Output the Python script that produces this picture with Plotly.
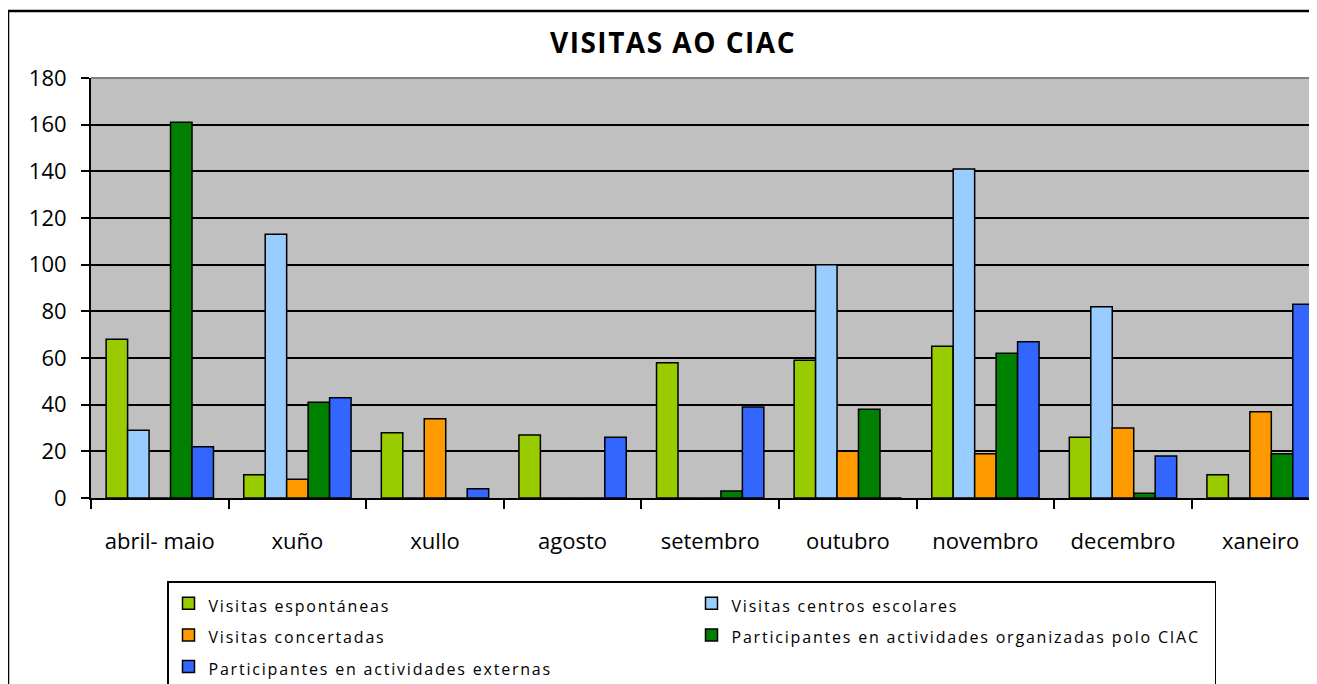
import plotly.graph_objects as go

months = ["abril- maio", "xuño", "xullo", "agosto", "setembro",
          "outubro", "novembro", "decembro", "xaneiro"]

espontaneas = [68, 10, 28, 27, 58, 59, 65, 26, 10]
centros_escolares = [29, 113, 0, 0, 0, 100, 141, 82, 0]
concertadas = [0, 8, 34, 0, 0, 20, 19, 30, 37]
organizadas_ciac = [161, 41, 0, 0, 3, 38, 62, 2, 19]
externas = [22, 43, 4, 26, 39, 0, 67, 18, 83]

series = [
    ("Visitas espontáneas", espontaneas, "#99CC00"),
    ("Visitas centros escolares", centros_escolares, "#99CCFF"),
    ("Visitas concertadas", concertadas, "#FF9900"),
    ("Participantes en actividades organizadas polo CIAC", organizadas_ciac, "#008000"),
    ("Participantes en actividades externas", externas, "#3366FF"),
]

FONT = "'Open Sans', Lato, sans-serif"

# the page body has an 8px margin, so the figure is laid out 8px up/left
W, H = 1309, 676
OFF = 8

fig = go.Figure()
for name, vals, color in series:
    # legend font is large (for row spacing), the visible text is smaller
    fig.add_trace(go.Bar(
        x=months, y=vals,
        name="<span style='font-size:16px;letter-spacing:1.8px'>" + name + "</span>",
        marker=dict(color=color, line=dict(color="black", width=1.5)),
    ))

fig.update_layout(
    width=W, height=H,
    margin=dict(l=91 - OFF, r=0, t=78 - OFF, b=H - (498 - OFF)),
    paper_bgcolor="white",
    plot_bgcolor="#C0C0C0",
    font=dict(family=FONT, color="black", size=22),
    barmode="group",
    bargap=0.22,
    bargroupgap=0,
    title=dict(text="<b><span style='letter-spacing:1.5px'>VISITAS AO CIAC</span></b>",
               x=(673 - OFF) / W, xanchor="center",
               y=1 - (43 - OFF) / H, yanchor="middle", font=dict(size=28)),
    xaxis=dict(
        range=[-0.5, 8.41],
        showline=True, linecolor="black", linewidth=2,
        ticks="outside", tickson="boundaries", ticklen=9,
        tickcolor="black", tickwidth=2,
        showgrid=False,
        ticklabelstandoff=23,
    ),
    yaxis=dict(
        range=[0, 180], dtick=20,
        showline=True, linecolor="black", linewidth=2,
        ticks="outside", ticklen=8, tickcolor="black", tickwidth=2,
        gridcolor="black", gridwidth=1.5,
        zeroline=False,
        ticklabelstandoff=10,
    ),
    legend=dict(
        orientation="h",
        xref="container", yref="container",
        x=(167 - OFF) / W, y=(H - (581 - OFF)) / H,
        xanchor="left", yanchor="top",
        entrywidth=478, entrywidthmode="pixels",
        bordercolor="black", borderwidth=1.5,
        bgcolor="white",
        font=dict(size=22),
        traceorder="normal",
    ),
    shapes=[
        # grey top border of plot area
        dict(type="line", xref="paper", yref="paper", x0=0, x1=1, y0=1, y1=1,
             line=dict(color="#808080", width=2)),
        # outer chart frame
        dict(type="rect", xref="paper", yref="paper",
             x0=(8 - 91) / 1226, x1=1.02, y0=-0.6, y1=1 + (78 - 11) / 420,
             line=dict(color="black", width=2.5), fillcolor="rgba(0,0,0,0)"),
    ],
)

fig.write_html("out.html")
